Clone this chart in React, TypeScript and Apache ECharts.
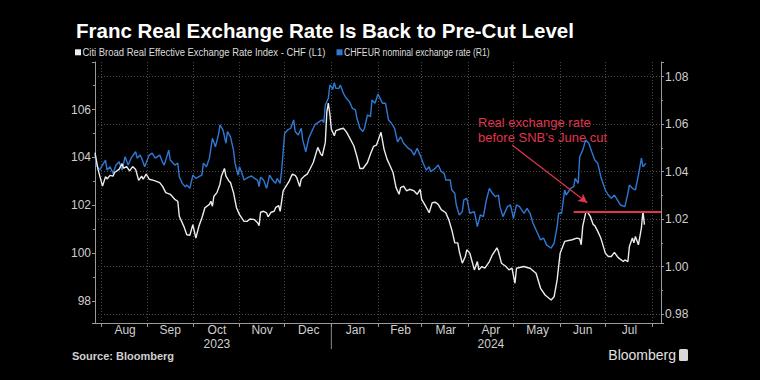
import React, { useEffect, useRef } from 'react';
import * as echarts from 'echarts';

// Citi Broad Real Effective Exchange Rate Index - CHF (left axis)
const REER: [string, number][] = [
  ['2023-07-28', 104.2], ['2023-07-30', 103.5], ['2023-08-02', 102.8], ['2023-08-04', 103.2], ['2023-08-05', 103.1],
  ['2023-08-07', 103.25], ['2023-08-09', 103.22], ['2023-08-10', 103.37], ['2023-08-13', 103.5], ['2023-08-15', 103.74],
  ['2023-08-16', 103.55], ['2023-08-18', 103.62], ['2023-08-20', 103.44], ['2023-08-22', 103.62], ['2023-08-24', 103.5],
  ['2023-08-26', 103.04], ['2023-08-28', 103.22], ['2023-08-29', 103.09], ['2023-08-31', 103.3], ['2023-09-02', 103.09],
  ['2023-09-05', 103.04], ['2023-09-09', 102.95], ['2023-09-11', 102.78], ['2023-09-13', 102.53], ['2023-09-16', 102.46],
  ['2023-09-19', 102.25], ['2023-09-21', 102.17], ['2023-09-22', 101.54], ['2023-09-25', 101.12], ['2023-09-27', 100.77],
  ['2023-09-29', 100.75], ['2023-10-01', 101.19], ['2023-10-03', 100.63], ['2023-10-05', 101.12], ['2023-10-07', 101.47],
  ['2023-10-09', 101.9], ['2023-10-12', 102.04], ['2023-10-13', 102.17], ['2023-10-14', 101.96], ['2023-10-15', 102.38],
  ['2023-10-17', 102.53], ['2023-10-19', 102.88], ['2023-10-20', 103.22], ['2023-10-22', 103.54], ['2023-10-23', 103.22],
  ['2023-10-25', 103.01], ['2023-10-26', 102.95], ['2023-10-28', 102.53], ['2023-10-30', 101.9], ['2023-11-01', 101.61],
  ['2023-11-04', 101.33], ['2023-11-06', 101.33], ['2023-11-08', 101.43], ['2023-11-11', 101.4], ['2023-11-13', 101.27],
  ['2023-11-14', 101.15], ['2023-11-15', 101.71], ['2023-11-17', 101.75], ['2023-11-19', 101.68], ['2023-11-20', 101.52],
  ['2023-11-22', 101.71], ['2023-11-24', 101.75], ['2023-11-25', 101.9], ['2023-11-27', 101.99], ['2023-11-28', 101.75],
  ['2023-11-30', 102.6], ['2023-12-04', 103.01], ['2023-12-06', 103.3], ['2023-12-08', 103.25], ['2023-12-09', 103.16],
  ['2023-12-11', 102.78], ['2023-12-12', 103.09], ['2023-12-14', 103.22], ['2023-12-16', 103.3], ['2023-12-18', 103.54],
  ['2023-12-20', 103.79], ['2023-12-23', 104.42], ['2023-12-25', 104.14], ['2023-12-26', 104.07], ['2023-12-28', 104.63],
  ['2023-12-29', 105.89], ['2023-12-30', 106.27], ['2023-12-31', 105.82], ['2024-01-01', 105.19], ['2024-01-03', 104.91],
  ['2024-01-04', 105.12], ['2024-01-07', 105.19], ['2024-01-09', 105.22], ['2024-01-11', 105.07], ['2024-01-13', 104.84],
  ['2024-01-16', 104.48], ['2024-01-18', 104.04], ['2024-01-20', 103.54], ['2024-01-22', 103.54], ['2024-01-25', 103.79],
  ['2024-01-27', 104.14], ['2024-01-29', 104.46], ['2024-01-31', 104.52], ['2024-02-03', 105.05], ['2024-02-05', 104.35],
  ['2024-02-07', 103.93], ['2024-02-09', 103.65], ['2024-02-11', 103.37], ['2024-02-13', 102.74], ['2024-02-15', 102.46],
  ['2024-02-16', 102.74], ['2024-02-18', 102.8], ['2024-02-20', 102.6], ['2024-02-22', 102.67], ['2024-02-25', 102.6],
  ['2024-02-27', 102.46], ['2024-02-29', 102.67], ['2024-03-01', 102.25], ['2024-03-03', 102.04], ['2024-03-06', 101.69],
  ['2024-03-08', 102.11], ['2024-03-10', 102.13], ['2024-03-12', 102.04], ['2024-03-14', 101.82], ['2024-03-17', 101.69],
  ['2024-03-19', 101.4], ['2024-03-21', 100.98], ['2024-03-23', 100.43], ['2024-03-25', 100.43], ['2024-03-26', 100.07],
  ['2024-03-28', 99.58], ['2024-03-30', 99.86], ['2024-03-31', 100.14], ['2024-04-02', 100.0], ['2024-04-05', 99.3],
  ['2024-04-07', 99.65], ['2024-04-08', 99.3], ['2024-04-10', 99.44], ['2024-04-12', 99.37], ['2024-04-15', 99.65],
  ['2024-04-17', 99.93], ['2024-04-20', 100.22], ['2024-04-21', 100.07], ['2024-04-23', 99.58], ['2024-04-26', 99.44],
  ['2024-04-28', 99.3], ['2024-04-30', 99.37], ['2024-05-02', 98.74], ['2024-05-03', 99.37], ['2024-05-05', 99.4],
  ['2024-05-08', 99.44], ['2024-05-10', 99.4], ['2024-05-12', 99.37], ['2024-05-16', 99.16], ['2024-05-19', 98.53],
  ['2024-05-22', 98.25], ['2024-05-26', 98.04], ['2024-05-28', 98.18], ['2024-05-30', 98.88], ['2024-06-01', 100.0],
  ['2024-06-04', 100.49], ['2024-06-09', 100.56], ['2024-06-12', 100.63], ['2024-06-14', 100.6], ['2024-06-15', 100.35],
  ['2024-06-16', 101.12], ['2024-06-18', 101.69], ['2024-06-19', 101.75], ['2024-06-21', 101.54], ['2024-06-23', 101.19],
  ['2024-06-24', 101.15], ['2024-06-26', 100.91], ['2024-06-28', 100.63], ['2024-06-29', 100.43], ['2024-07-01', 100.0],
  ['2024-07-03', 99.86], ['2024-07-05', 99.86], ['2024-07-07', 100.03], ['2024-07-09', 99.86], ['2024-07-10', 99.79],
  ['2024-07-13', 99.65], ['2024-07-14', 99.72], ['2024-07-16', 99.65], ['2024-07-17', 100.28], ['2024-07-19', 100.63],
  ['2024-07-20', 100.43], ['2024-07-21', 100.7], ['2024-07-23', 100.35], ['2024-07-25', 101.06], ['2024-07-26', 101.75],
  ['2024-07-27', 101.19],
];

// CHFEUR nominal exchange rate (right axis)
const CHFEUR: [string, number][] = [
  ['2023-07-28', 1.047], ['2023-07-29', 1.0428], ['2023-07-31', 1.0407], ['2023-08-02', 1.0428], ['2023-08-04', 1.0449],
  ['2023-08-05', 1.0407], ['2023-08-07', 1.0421], ['2023-08-09', 1.0393], ['2023-08-11', 1.0428], ['2023-08-13', 1.0442],
  ['2023-08-15', 1.0407], ['2023-08-17', 1.0463], ['2023-08-19', 1.0428], ['2023-08-21', 1.0457], ['2023-08-24', 1.0484],
  ['2023-08-25', 1.0457], ['2023-08-27', 1.047], ['2023-08-28', 1.0457], ['2023-08-30', 1.0421], ['2023-09-02', 1.047],
  ['2023-09-04', 1.0478], ['2023-09-06', 1.0457], ['2023-09-09', 1.047], ['2023-09-11', 1.0438], ['2023-09-12', 1.0428],
  ['2023-09-15', 1.0491], ['2023-09-16', 1.0449], ['2023-09-19', 1.0428], ['2023-09-21', 1.0436], ['2023-09-22', 1.0379],
  ['2023-09-24', 1.0351], ['2023-09-26', 1.0337], ['2023-09-27', 1.0344], ['2023-09-29', 1.033], ['2023-10-01', 1.0386],
  ['2023-10-03', 1.0372], ['2023-10-05', 1.0379], ['2023-10-07', 1.0386], ['2023-10-08', 1.0436], ['2023-10-10', 1.0421],
  ['2023-10-12', 1.0457], ['2023-10-14', 1.0541], ['2023-10-16', 1.0505], ['2023-10-18', 1.0555], ['2023-10-19', 1.0597],
  ['2023-10-21', 1.0576], ['2023-10-23', 1.052], ['2023-10-24', 1.0569], ['2023-10-26', 1.0547], ['2023-10-28', 1.0491],
  ['2023-10-29', 1.0436], ['2023-10-31', 1.0386], ['2023-11-01', 1.0421], ['2023-11-03', 1.0386], ['2023-11-04', 1.0365],
  ['2023-11-07', 1.0377], ['2023-11-09', 1.0382], ['2023-11-11', 1.0372], ['2023-11-13', 1.0365], ['2023-11-14', 1.0337],
  ['2023-11-15', 1.0377], ['2023-11-17', 1.0365], ['2023-11-19', 1.033], ['2023-11-21', 1.0386], ['2023-11-23', 1.0365],
  ['2023-11-25', 1.0351], ['2023-11-26', 1.0372], ['2023-11-28', 1.0351], ['2023-11-29', 1.0407], ['2023-12-01', 1.0562],
  ['2023-12-03', 1.0576], ['2023-12-05', 1.0583], ['2023-12-07', 1.0618], ['2023-12-08', 1.0569], ['2023-12-10', 1.0555],
  ['2023-12-12', 1.0583], ['2023-12-13', 1.0534], ['2023-12-15', 1.0484], ['2023-12-17', 1.0541], ['2023-12-19', 1.0569],
  ['2023-12-21', 1.0597], ['2023-12-24', 1.0611], ['2023-12-26', 1.0618], ['2023-12-27', 1.0606], ['2023-12-28', 1.0681],
  ['2023-12-30', 1.0709], ['2023-12-31', 1.0765], ['2024-01-01', 1.0758], ['2024-01-02', 1.0747], ['2024-01-03', 1.0775],
  ['2024-01-04', 1.0751], ['2024-01-06', 1.0751], ['2024-01-07', 1.0765], ['2024-01-09', 1.073], ['2024-01-11', 1.0709],
  ['2024-01-13', 1.0695], ['2024-01-15', 1.0667], ['2024-01-17', 1.066], ['2024-01-18', 1.0625], ['2024-01-20', 1.0583],
  ['2024-01-22', 1.0569], ['2024-01-23', 1.0583], ['2024-01-25', 1.0639], ['2024-01-27', 1.0632], ['2024-01-28', 1.0702],
  ['2024-01-30', 1.0688], ['2024-02-01', 1.0727], ['2024-02-04', 1.0688], ['2024-02-06', 1.0688], ['2024-02-08', 1.0618],
  ['2024-02-10', 1.0604], ['2024-02-12', 1.0583], ['2024-02-14', 1.0526], ['2024-02-16', 1.0547], ['2024-02-18', 1.052],
  ['2024-02-21', 1.0499], ['2024-02-23', 1.0491], ['2024-02-25', 1.047], ['2024-02-27', 1.0499], ['2024-02-29', 1.047],
  ['2024-03-02', 1.0436], ['2024-03-04', 1.0407], ['2024-03-06', 1.0421], ['2024-03-07', 1.04], ['2024-03-10', 1.0414],
  ['2024-03-12', 1.0428], ['2024-03-14', 1.04], ['2024-03-16', 1.0393], ['2024-03-17', 1.0365], ['2024-03-20', 1.0365],
  ['2024-03-21', 1.0323], ['2024-03-23', 1.0309], ['2024-03-24', 1.026], ['2024-03-26', 1.0218], ['2024-03-28', 1.0232],
  ['2024-03-29', 1.0281], ['2024-03-31', 1.0288], ['2024-04-02', 1.0225], ['2024-04-05', 1.0232], ['2024-04-07', 1.0169],
  ['2024-04-09', 1.0218], ['2024-04-11', 1.0211], ['2024-04-13', 1.0281], ['2024-04-15', 1.033], ['2024-04-17', 1.0309],
  ['2024-04-19', 1.0295], ['2024-04-21', 1.0302], ['2024-04-22', 1.0253], ['2024-04-24', 1.0211], ['2024-04-27', 1.0253],
  ['2024-04-29', 1.026], ['2024-05-01', 1.0204], ['2024-05-03', 1.026], ['2024-05-05', 1.0253], ['2024-05-08', 1.0225],
  ['2024-05-10', 1.0246], ['2024-05-12', 1.0225], ['2024-05-14', 1.0183], ['2024-05-17', 1.0141], ['2024-05-19', 1.0113],
  ['2024-05-21', 1.012], ['2024-05-23', 1.0092], ['2024-05-26', 1.0078], ['2024-05-28', 1.0099], ['2024-05-30', 1.0169],
  ['2024-05-31', 1.0225], ['2024-06-02', 1.0225], ['2024-06-04', 1.0323], ['2024-06-05', 1.0302], ['2024-06-08', 1.033],
  ['2024-06-10', 1.0337], ['2024-06-11', 1.0372], ['2024-06-13', 1.0351], ['2024-06-14', 1.0463], ['2024-06-16', 1.0491],
  ['2024-06-18', 1.0534], ['2024-06-20', 1.052], ['2024-06-22', 1.0484], ['2024-06-24', 1.0449], ['2024-06-26', 1.0436],
  ['2024-06-28', 1.0379], ['2024-07-01', 1.0323], ['2024-07-03', 1.0302], ['2024-07-05', 1.0288], ['2024-07-07', 1.0302],
  ['2024-07-09', 1.0281], ['2024-07-11', 1.026], ['2024-07-14', 1.0253], ['2024-07-16', 1.0309], ['2024-07-17', 1.0344],
  ['2024-07-19', 1.033], ['2024-07-21', 1.0323], ['2024-07-23', 1.0386], ['2024-07-25', 1.0457], ['2024-07-26', 1.0421],
  ['2024-07-28', 1.0436],
];

const AXIS_START = '2023-07-28';
const AXIS_END = '2024-08-07';
const MONTH_TICKS = [
  '2023-08-01', '2023-09-01', '2023-10-01', '2023-11-01', '2023-12-01', '2024-01-01', '2024-02-01',
  '2024-03-01', '2024-04-01', '2024-05-01', '2024-06-01', '2024-07-01', '2024-08-01',
];
const MONTH_LABELS = ['Aug', 'Sep', 'Oct', 'Nov', 'Dec', 'Jan', 'Feb', 'Mar', 'Apr', 'May', 'Jun', 'Jul'];
const YEAR_LABELS = ['2023', '2024'];
const YEAR_BREAK = '2024-01-01';

const LEFT_MIN = 97.08;
const LEFT_MAX = 107.99;
const RIGHT_MIN = 0.9763;
const RIGHT_MAX = 1.0862;

const PRE_CUT_LEVEL = 101.75;
const PRE_CUT_FROM = '2024-06-10';
const ARROW_FROM: [string, number] = ['2024-04-30', 104.52];
const ARROW_TO: [string, number] = ['2024-06-19', 102.11];

const TITLE = 'Franc Real Exchange Rate Is Back to Pre-Cut Level';
const SERIES_NAMES = ['Citi Broad Real Effective Exchange Rate Index - CHF (L1)', 'CHFEUR nominal exchange rate (R1)'];
const ANNOTATION = 'Real exchange rate\nbefore SNB\u2019s June cut';

const ts = (s: string) => {
  const [y, m, d] = s.split('-').map(Number);
  return new Date(y, m - 1, d).getTime();
};
const fmt = (t: number) => {
  const d = new Date(t);
  const p = (n: number) => (n < 10 ? '0' + n : '' + n);
  return d.getFullYear() + '-' + p(d.getMonth() + 1) + '-' + p(d.getDate());
};

const SANS = '"Liberation Sans", Arial, sans-serif';
const RED = '#e2344f';
const BLUE = '#2f78d4';
const WHITE = '#ececec';

export default function App() {
  const ref = useRef<HTMLDivElement>(null);
  useEffect(() => {
    if (!ref.current) return;
    const chart = echarts.init(ref.current, undefined, { renderer: 'svg' });

    const days: string[] = [];
    {
      const end = ts(AXIS_END);
      const d = new Date(ts(AXIS_START));
      while (d.getTime() <= end + 3600000) {
        days.push(fmt(d.getTime()));
        d.setDate(d.getDate() + 1);
      }
    }
    const idx = (s: string) => days.indexOf(s);
    const labelMap: Record<number, string> = {};
    const labelIdx: number[] = [];
    for (let i = 0; i < MONTH_LABELS.length; i++) {
      const mid = Math.round((idx(MONTH_TICKS[i]) + idx(MONTH_TICKS[i + 1])) / 2);
      labelMap[mid] = MONTH_LABELS[i];
      labelIdx.push(mid);
    }
    // attach each year to the month label nearest the middle of its span
    const yb = idx(YEAR_BREAK);
    const yearMids = [yb / 2, (yb + days.length - 1) / 2];
    yearMids.forEach((m, k) => {
      let best = labelIdx[0];
      labelIdx.forEach((li) => {
        if (Math.abs(li - m) < Math.abs(best - m)) best = li;
      });
      labelMap[best] = labelMap[best] + '\n' + YEAR_LABELS[k];
    });
    const tickSet = new Set(MONTH_TICKS.map(idx));

    const gridLine = { color: '#4a4a4a', width: 1, type: [1, 2] as any };
    const axisText = { color: '#cfcfcf', fontSize: 12, fontFamily: SANS };

    chart.setOption({
      animation: false,
      backgroundColor: '#000',
      title: {
        text: TITLE,
        left: 71,
        top: 15,
        textStyle: { color: '#fff', fontSize: 20.5, fontWeight: 'bold', fontFamily: SANS },
      },
      legend: { show: false, data: SERIES_NAMES },
      grid: { left: 95, right: 99, top: 62, bottom: 57 },
      xAxis: [
        {
          type: 'time',
          show: false,
          min: ts(AXIS_START),
          max: ts(AXIS_END),
        },
        {
          type: 'category',
          position: 'bottom',
          boundaryGap: false,
          data: days,
          axisLine: { show: true, lineStyle: { color: '#9a9a9a' } },
          axisTick: {
            show: true,
            length: 4,
            interval: (i: number) => tickSet.has(i),
            lineStyle: { color: '#9a9a9a' },
          },
          splitLine: {
            show: true,
            interval: (i: number) => tickSet.has(i),
            lineStyle: gridLine,
          },
          axisLabel: {
            ...axisText,
            interval: (i: number) => labelMap[i] !== undefined,
            formatter: (_v: string, i: number) => labelMap[i] || '',
            margin: 0,
            lineHeight: 14,
          },
        },
      ],
      yAxis: [
        {
          type: 'value',
          position: 'left',
          min: LEFT_MIN,
          max: LEFT_MAX,
          axisLine: { show: true, lineStyle: { color: '#9a9a9a' } },
          axisTick: { show: true, length: 3, lineStyle: { color: '#9a9a9a' } },
          minorTick: { show: true, splitNumber: 2, length: 2, lineStyle: { color: '#9a9a9a' } },
          splitLine: { show: false },
          axisLabel: { ...axisText, margin: 4, showMinLabel: false, showMaxLabel: false },
        },
        {
          type: 'value',
          position: 'right',
          min: RIGHT_MIN,
          max: RIGHT_MAX,
          axisLine: { show: true, lineStyle: { color: '#9a9a9a' } },
          axisTick: { show: true, length: 3, lineStyle: { color: '#9a9a9a' } },
          minorTick: { show: true, splitNumber: 2, length: 2, lineStyle: { color: '#9a9a9a' } },
          splitLine: { show: true, showMinLine: false, showMaxLine: false, lineStyle: gridLine },
          axisLabel: {
            ...axisText,
            margin: 4,
            showMinLabel: false,
            showMaxLabel: false,
            formatter: (v: number) => v.toFixed(2),
          },
        },
      ],
      series: [
        {
          name: SERIES_NAMES[0],
          type: 'line',
          xAxisIndex: 0,
          yAxisIndex: 0,
          showSymbol: false,
          symbol: 'none',
          color: WHITE,
          lineStyle: { color: WHITE, width: 1.4 },
          data: REER.map(([d, v]) => [ts(d), v]),
          z: 3,
          markLine: {
            silent: true,
            animation: false,
            label: { show: false },
            data: [
              [
                { coord: [ts(PRE_CUT_FROM), PRE_CUT_LEVEL], symbol: 'none', lineStyle: { color: RED, width: 2, type: 'solid' } },
                { coord: [ts(AXIS_END), PRE_CUT_LEVEL], symbol: 'none' },
              ],
              [
                { coord: [ts(ARROW_FROM[0]), ARROW_FROM[1]], symbol: 'none', lineStyle: { color: RED, width: 1.2, type: 'solid' } },
                { coord: [ts(ARROW_TO[0]), ARROW_TO[1]], symbol: 'arrow', symbolSize: [7, 9] },
              ],
            ],
          },
        },
        {
          name: SERIES_NAMES[1],
          type: 'line',
          xAxisIndex: 0,
          yAxisIndex: 1,
          showSymbol: false,
          symbol: 'none',
          color: BLUE,
          lineStyle: { color: BLUE, width: 1.4 },
          data: CHFEUR.map(([d, v]) => [ts(d), v]),
          z: 2,
        },
      ],
      graphic: [
        { id: 'lg0icon', type: 'rect', x: 75, y: 49.3, shape: { width: 6, height: 6 }, style: { fill: WHITE } },
        {
          id: 'lg0text',
          type: 'text',
          x: 82.5,
          y: 52.5,
          scaleX: 0.862,
          style: { text: SERIES_NAMES[0], fill: '#dcdcdc', fontSize: 11, fontFamily: SANS, verticalAlign: 'middle', align: 'left' },
        },
        { id: 'lg1icon', type: 'rect', x: 336.5, y: 49.3, shape: { width: 6, height: 6 }, style: { fill: BLUE } },
        {
          id: 'lg1text',
          type: 'text',
          x: 344,
          y: 52.5,
          scaleX: 0.79,
          style: { text: SERIES_NAMES[1], fill: '#dcdcdc', fontSize: 11, fontFamily: SANS, verticalAlign: 'middle', align: 'left' },
        },
        {
          id: 'annot',
          type: 'text',
          left: 478,
          top: 115,
          style: { text: ANNOTATION, fill: RED, fontSize: 13, lineHeight: 15, fontFamily: SANS },
        },
        {
          id: 'source',
          type: 'text',
          left: 72,
          top: 350,
          style: { text: 'Source: Bloomberg', fill: '#d0d0d0', fontSize: 11, fontWeight: 'bold', fontFamily: SANS },
        },
        {
          id: 'brand',
          type: 'text',
          right: 84,
          top: 348,
          style: { text: 'Bloomberg', fill: '#e0e0e0', fontSize: 14, fontFamily: SANS },
        },
        {
          id: 'brandIcon',
          type: 'rect',
          right: 72,
          top: 349,
          shape: { width: 9, height: 12, r: 1.5 },
          style: { fill: '#d8d8d8' },
        },
      ],
    });

    const xb = chart.convertToPixel({ xAxisIndex: 1 }, YEAR_BREAK) as number;
    const yb0 = chart.convertToPixel({ yAxisIndex: 0 }, LEFT_MIN) as number;
    chart.setOption({
      graphic: [
        {
          id: 'yearBreak',
          type: 'line',
          shape: { x1: xb, y1: yb0, x2: xb, y2: yb0 + 26 },
          style: { stroke: '#8a8a8a', lineWidth: 1 },
        },
      ],
    });

    return () => chart.dispose();
  }, []);
  return <div ref={ref} style={{ position: 'absolute', left: 0, top: 0, width: 760, height: 380, background: '#000' }} />;
}
